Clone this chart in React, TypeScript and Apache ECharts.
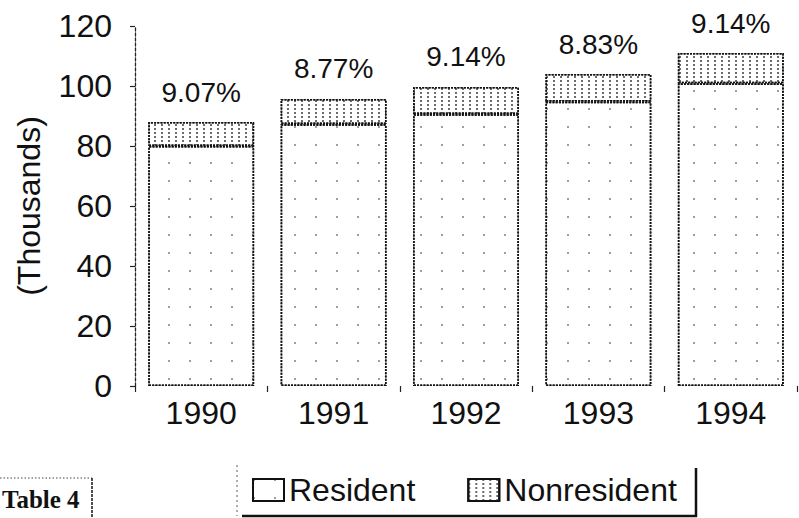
import React, { useEffect, useRef } from "react";
import * as echarts from "echarts";

const years = ["1990", "1991", "1992", "1993", "1994"];
const resident = [80, 87.3, 90.6, 94.8, 100.9];
const nonresident = [8.0, 8.4, 9.1, 9.2, 10.1];
const pctLabels = ["9.07%", "8.77%", "9.14%", "8.83%", "9.14%"];
const yTicks = [0, 20, 40, 60, 80, 100, 120];

const FONT = '"Liberation Sans", Arial, Helvetica, sans-serif';

export default function App() {
  const ref = useRef<HTMLDivElement>(null);
  useEffect(() => {
    if (!ref.current) return;
    const chart = echarts.init(ref.current, null, { renderer: "svg" });
    const border = {
      borderColor: "#111",
      borderWidth: 1.6,
      borderType: [2, 1.2] as any,
    };
    chart.setOption({
      animation: false,
      backgroundColor: "#ffffff",
      textStyle: { fontFamily: FONT, color: "#111" },
      grid: { left: 135, right: 2, top: 26, bottom: 132, containLabel: false },
      legend: {
        left: 247,
        top: 469,
        itemWidth: 31,
        itemHeight: 22,
        itemGap: 52,
        icon: "rect",
        textStyle: { fontSize: 32, color: "#111", fontFamily: FONT, padding: [0, 0, 0, 0] },
        data: ["Resident", "Nonresident"],
      },
      xAxis: {
        type: "category",
        data: years,
        axisLine: { show: false },
        axisTick: { show: true, length: 6, lineStyle: { color: "#222", width: 1.2 } },
        axisLabel: { fontSize: 32, color: "#111", margin: 11, fontFamily: FONT },
      },
      yAxis: {
        type: "value",
        min: yTicks[0],
        max: yTicks[yTicks.length - 1],
        interval: 20,
        name: "(Thousands)",
        nameLocation: "middle",
        nameGap: 90,
        nameTextStyle: { fontSize: 32, color: "#111", fontFamily: FONT },
        axisLine: { show: true, lineStyle: { color: "#222", width: 1.3, type: [3, 2] } },
        axisTick: { show: true, length: 5, lineStyle: { color: "#222", width: 1.2 } },
        axisLabel: { fontSize: 32, color: "#111", margin: 23, fontFamily: FONT },
        splitLine: { show: false },
      },
      series: [
        {
          name: "Resident",
          type: "bar",
          stack: "total",
          barWidth: "80%",
          data: resident,
          itemStyle: {
            color: "#ffffff",
            ...border,
            decal: {
              symbol: "rect",
              symbolSize: 1,
              color: "rgba(40,40,40,0.45)",
              dashArrayX: [1.5, 19],
              dashArrayY: [1.5, 16],
              rotation: 0,
            },
          },
        },
        {
          name: "Nonresident",
          type: "bar",
          stack: "total",
          barWidth: "80%",
          data: nonresident,
          itemStyle: {
            color: "#ffffff",
            ...border,
            decal: {
              symbol: "rect",
              symbolSize: 1,
              color: "rgba(30,30,30,0.65)",
              dashArrayX: [1.2, 4.5],
              dashArrayY: [2, 2],
              rotation: 0,
            },
          },
          label: {
            show: true,
            position: "top",
            distance: 16,
            fontSize: 28,
            color: "#111",
            fontFamily: FONT,
            formatter: (p: any) => pctLabels[p.dataIndex],
          },
        },
      ],
      graphic: [
        // legend frame
        { type: "line", shape: { x1: 237, y1: 465, x2: 237, y2: 516 }, style: { stroke: "#777", lineWidth: 1.2, lineDash: [2, 3] } },
        { type: "line", shape: { x1: 242, y1: 516, x2: 697, y2: 516 }, style: { stroke: "#111", lineWidth: 2.5 } },
        { type: "line", shape: { x1: 696, y1: 468, x2: 696, y2: 517 }, style: { stroke: "#111", lineWidth: 2.5 } },
        // "Table 4" box
        { type: "line", shape: { x1: 0, y1: 478, x2: 92, y2: 478 }, style: { stroke: "#444", lineWidth: 1.2, lineDash: [1.5, 2] } },
        { type: "line", shape: { x1: 92, y1: 478, x2: 92, y2: 518 }, style: { stroke: "#222", lineWidth: 1.6, lineDash: [3, 1] } },
        {
          type: "text",
          x: 2,
          y: 512,
          style: {
            text: "Table 4",
            align: "left",
            verticalAlign: "bottom",
            font: 'bold 25px "Liberation Serif", "Times New Roman", serif',
            fill: "#111",
          },
        },
      ],
    });
    return () => chart.dispose();
  }, []);
  return <div ref={ref} style={{ width: 799, height: 518, position: "absolute", left: 0, top: 0 }} />;
}
